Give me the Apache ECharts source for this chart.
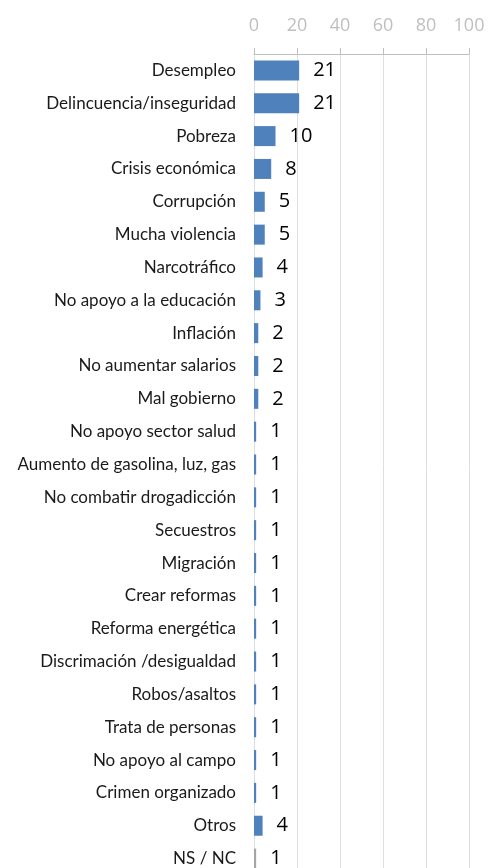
<!DOCTYPE html>
<html><head><meta charset="utf-8">
<script src="https://cdn.jsdelivr.net/npm/echarts@6/dist/echarts.min.js"></script>
<style>html,body{margin:0;padding:0;background:#fff;overflow:hidden}#c{width:489px;height:876px}</style>
</head><body><div id="c"></div>
<script>
const categories = ["Desempleo","Delincuencia/inseguridad","Pobreza","Crisis económica","Corrupción","Mucha violencia","Narcotráfico","No apoyo a la educación","Inflación","No aumentar salarios","Mal gobierno","No apoyo sector salud","Aumento de gasolina, luz, gas","No combatir drogadicción","Secuestros","Migración","Crear reformas","Reforma energética","Discrimación /desigualdad","Robos/asaltos","Trata de personas","No apoyo al campo","Crimen organizado","Otros","NS / NC"];
const values = [21,21,10,8,5,5,4,3,2,2,2,1,1,1,1,1,1,1,1,1,1,1,1,4,1];
const xTicks = [0,20,40,60,80,100];
const barColor = "#4F81BD";
const grayColor = "#A5A5A5";

const chart = echarts.init(document.getElementById('c'));
chart.setOption({
  animation:false,
  grid:{left:254,right:20,top:54,bottom:1,containLabel:false},
  xAxis:{type:'value',position:'top',min:xTicks[0],max:xTicks[xTicks.length-1],interval:20,
    axisLine:{show:true,lineStyle:{color:'#BFBFBF',width:1}},
    axisTick:{show:true,length:6,lineStyle:{color:'#BFBFBF'}},
    axisLabel:{color:'#BFBFBF',fontSize:18,fontFamily:'Open Sans',margin:19}},
  yAxis:{type:'category',inverse:true,data:categories,
    axisLine:{show:false},axisTick:{show:false},
    axisLabel:{color:'#1a1a1a',fontSize:17,fontFamily:'Lato',margin:18}},
  series:[{type:'bar',barWidth:20,
    data:values.map((v,i)=>({value:v,itemStyle:{color:i===values.length-1?grayColor:barColor}})),
    label:{show:true,position:'right',distance:14,color:'#000',fontSize:20,fontFamily:'Open Sans'}}]
});
</script></body></html>
